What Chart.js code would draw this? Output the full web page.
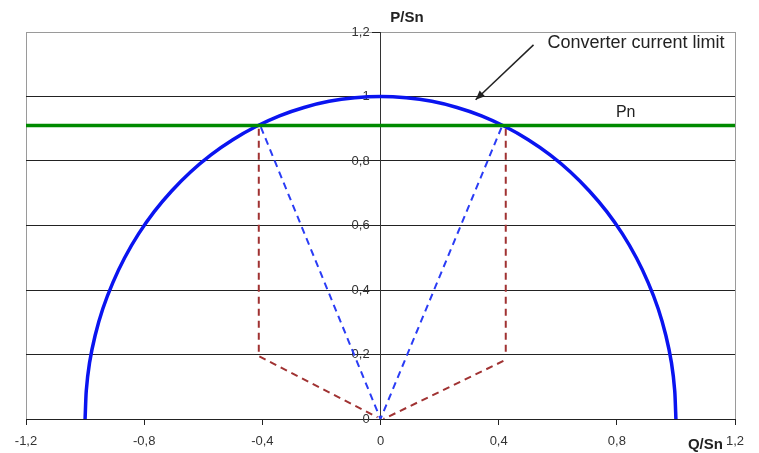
<!DOCTYPE html>
<html><head><meta charset="utf-8">
<script src="https://cdn.jsdelivr.net/npm/chart.js@4.4.1/dist/chart.umd.min.js"></script>
<style>html,body{margin:0;padding:0;background:#fff;} canvas{display:block;}</style>
</head><body>
<div style="width:759px;height:453px;"><canvas id="c" width="759" height="453"></canvas></div>
<script>
// Converter current limit (semicircle)
const circleQ = [-1, -0.996, -0.985, -0.966, -0.94, -0.906, -0.866, -0.819, -0.766, -0.707, -0.643, -0.574, -0.5, -0.423, -0.342, -0.259, -0.174, -0.087, 0,
                 0.087, 0.174, 0.259, 0.342, 0.423, 0.5, 0.574, 0.643, 0.707, 0.766, 0.819, 0.866, 0.906, 0.94, 0.966, 0.985, 0.996, 1];
const circleP = [0, 0.087, 0.174, 0.259, 0.342, 0.423, 0.5, 0.574, 0.643, 0.707, 0.766, 0.819, 0.866, 0.906, 0.94, 0.966, 0.985, 0.996, 1,
                 0.996, 0.985, 0.966, 0.94, 0.906, 0.866, 0.819, 0.766, 0.707, 0.643, 0.574, 0.5, 0.423, 0.342, 0.259, 0.174, 0.087, 0];
// Pn line
const pnQ = [-1.2, 1.2];
const pnP = [0.91, 0.91];
// blue dashed lines
const blueDashQ = [-0.405, 0, 0.41];
const blueDashP = [0.905, 0, 0.905];
// red dashed lines
const redLeftQ = [-0.412, -0.412, -0.01];
const redLeftP = [0.9, 0.195, 0.005];
const redRightTopQ = [0.424, 0.424];
const redRightTopP = [0.9, 0.205];
const redRightLowQ = [0.416, 0.01];
const redRightLowP = [0.18, 0.0];
// ticks
const xTicks = [-1.2, -0.8, -0.4, 0, 0.4, 0.8, 1.2];
const yTicks = [0, 0.2, 0.4, 0.6, 0.8, 1, 1.2];
// texts
const xTitle = 'Q/Sn';
const yTitle = 'P/Sn';
const curveLabel = 'Converter current limit';
const pnLabel = 'Pn';

const FONT = "'Liberation Sans', Arial, sans-serif";
const pts = (xs, ys) => xs.map((x, i) => ({x: x, y: ys[i]}));
const fmt = v => String(Math.round(v * 10) / 10).replace('.', ',');

const annot = {
  id: 'annot',
  afterDraw(chart) {
    const c = chart.ctx, xs = chart.scales.x, ys = chart.scales.y;
    const X = v => xs.getPixelForValue(v), Y = v => ys.getPixelForValue(v);
    c.save();
    c.fillStyle = '#222';
    // curve label
    c.font = '18px ' + FONT;
    c.textAlign = 'left'; c.textBaseline = 'middle';
    c.fillText(curveLabel, X(0.565), Y(1.166));
    // Pn label
    c.font = '16px ' + FONT;
    c.textAlign = 'center';
    c.fillText(pnLabel, X(0.83), Y(0.95));
    // arrow
    const x1 = X(0.518), y1 = Y(1.16), x2 = X(0.322), y2 = Y(0.99);
    c.strokeStyle = '#222'; c.lineWidth = 1.5;
    c.beginPath(); c.moveTo(x1, y1); c.lineTo(x2, y2); c.stroke();
    const a = Math.atan2(y2 - y1, x2 - x1), L = 10, W = 0.4;
    c.beginPath();
    c.moveTo(x2, y2);
    c.lineTo(x2 - L * Math.cos(a - W), y2 - L * Math.sin(a - W));
    c.lineTo(x2 - L * Math.cos(a + W), y2 - L * Math.sin(a + W));
    c.closePath(); c.fill();
    // axis titles
    c.font = 'bold 15px ' + FONT;
    c.textAlign = 'center';
    c.fillText(yTitle, X(0.0895), 18);
    c.fillText(xTitle, X(1.1), 445);
    c.restore();
  }
};

new Chart(document.getElementById('c'), {
  type: 'scatter',
  data: {
    datasets: [
      {data: pts(pnQ, pnP), showLine: true, borderColor: '#008a00', borderWidth: 3.5, pointRadius: 0, order: 0},
      {data: pts(circleQ, circleP), showLine: true, borderColor: '#0a14f0', borderWidth: 3.5, pointRadius: 0, tension: 0.2, order: 1},
      {data: pts(blueDashQ, blueDashP), showLine: true, borderColor: '#2a3cf5', borderWidth: 2, borderDash: [7, 5], pointRadius: 0, order: 2},
      {data: pts(redLeftQ, redLeftP), showLine: true, borderColor: '#a03232', borderWidth: 2, borderDash: [7, 5], pointRadius: 0, order: 3},
      {data: pts(redRightTopQ, redRightTopP), showLine: true, borderColor: '#a03232', borderWidth: 2, borderDash: [7, 5], pointRadius: 0, order: 3},
      {data: pts(redRightLowQ, redRightLowP), showLine: true, borderColor: '#a03232', borderWidth: 2, borderDash: [7, 5], pointRadius: 0, order: 3}
    ]
  },
  options: {
    responsive: false,
    animation: false,
    layout: {padding: {left: 26, right: 24, top: 32, bottom: 0}},
    plugins: {legend: {display: false}, tooltip: {enabled: false}},
    scales: {
      x: {
        type: 'linear', min: -1.2, max: 1.2,
        afterBuildTicks: s => { s.ticks = xTicks.map(v => ({value: v})); },
        afterFit: s => { s.height = 34; },
        ticks: {callback: v => fmt(v), color: '#333', font: {size: 13, family: FONT}, padding: 9, maxRotation: 0, autoSkip: false},
        grid: {
          color: ctx => (ctx.tick && Math.abs(Math.abs(ctx.tick.value) - 1.2) < 1e-6) ? '#9a9a9a' : 'rgba(0,0,0,0)',
          tickColor: '#222', tickLength: 6, lineWidth: 1
        },
        border: {color: '#222', width: 1}
      },
      y: {
        type: 'linear', position: {x: 0}, min: 0, max: 1.2,
        afterBuildTicks: s => { s.ticks = yTicks.map(v => ({value: v})); },
        afterFit: s => { s.width = 0; },
        ticks: {callback: v => fmt(v) + '   ', color: '#333', font: {size: 13, family: FONT}, padding: 5},
        grid: {
          color: ctx => (ctx.tick && Math.abs(ctx.tick.value - 1.2) < 1e-6) ? '#9a9a9a' : '#222',
          tickColor: '#222', tickLength: 8, lineWidth: 1
        },
        border: {color: '#333', width: 1}
      }
    }
  },
  plugins: [annot]
});
</script>
</body></html>
